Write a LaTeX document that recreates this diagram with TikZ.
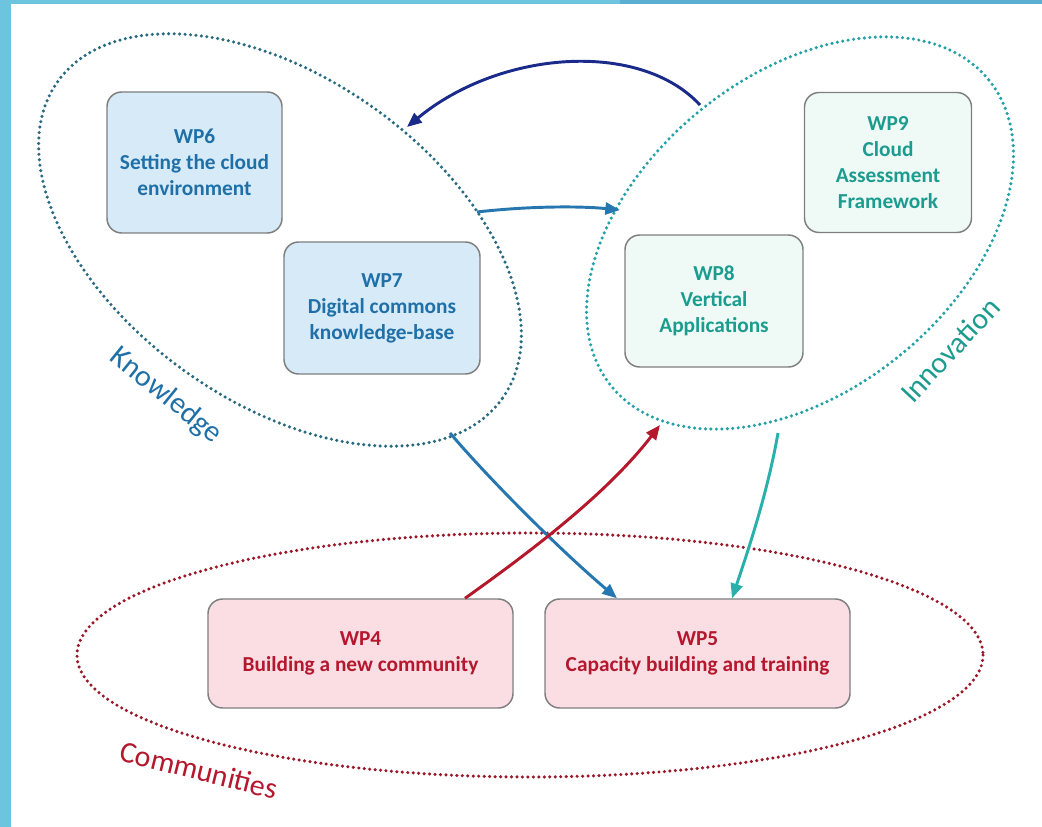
\documentclass[tikz,border=0pt]{standalone}
\usepackage{fontspec}
\setmainfont{Carlito}
\usetikzlibrary{arrows.meta}
\definecolor{stripeA}{HTML}{6CC4DE}
\definecolor{stripeB}{HTML}{5AAFD2}
\definecolor{kdot}{HTML}{2A6A80}
\definecolor{idot}{HTML}{24A0A6}
\definecolor{cdot}{HTML}{9A1828}
\definecolor{kfill}{HTML}{D6EAF8}
\definecolor{ktext}{HTML}{2070A8}
\definecolor{ifill}{HTML}{EFFAF7}
\definecolor{itext}{HTML}{1C9C8E}
\definecolor{cfill}{HTML}{FBDDE4}
\definecolor{ctext}{HTML}{B5182E}
\definecolor{boxline}{HTML}{7F7F7F}
\definecolor{navy}{HTML}{1A2A8A}
\definecolor{midblue}{HTML}{2676B0}
\definecolor{tealarrow}{HTML}{2AB0AA}
\definecolor{redarrow}{HTML}{B5182A}
\tikzset{
  dots/.style={line width=2.6pt, line cap=round, dash pattern=on 0pt off 4.1pt},
  wpbox/.style={rectangle, rounded corners=11pt, draw=boxline, line width=1.1pt,
    align=center, font=\fontsize{16}{19.5}\selectfont\bfseries, inner sep=2pt},
  kbox/.style={wpbox, fill=kfill, text=ktext},
  ibox/.style={wpbox, fill=ifill, text=itext},
  cbox/.style={wpbox, fill=cfill, text=ctext},
  link/.style={line width=2.2pt, -{Triangle[length=11pt,width=9pt]}},
  grouplabel/.style={font=\fontsize{22.5}{26}\selectfont}
}
\begin{document}
\begin{tikzpicture}[x=0.75pt,y=-0.75pt]
\useasboundingbox (0,0) rectangle (1042,827);
\fill[white] (0,0) rectangle (1042,827);
\fill[stripeA] (0,0) rectangle (11,827);
\fill[stripeA] (0,0) rectangle (620,4);
\fill[stripeB] (620,0) rectangle (1042,4);

% group ellipses
\draw[dots, draw=kdot, rotate around={-35.5:(280,240)}] (280,240) ellipse [x radius=273, y radius=162];
\draw[dots, draw=idot, rotate around={39:(800,233)}] (800,233) ellipse [x radius=243, y radius=158];
\draw[dots, draw=cdot] (530,655) ellipse [x radius=453, y radius=122];

% boxes
\node[kbox, minimum width=131.25pt, minimum height=105.75pt] (wp6) at (194.5,162.5) {WP6\\Setting the cloud\\environment};
\node[kbox, minimum width=147pt, minimum height=99pt] (wp7) at (382,308) {WP7\\Digital commons\\knowledge-base};
\node[ibox, minimum width=125.25pt, minimum height=105pt] (wp9) at (888,162.5) {WP9\\Cloud\\Assessment\\Framework};
\node[ibox, minimum width=133.5pt, minimum height=99pt] (wp8) at (714,301) {WP8\\Vertical\\Applications};
\node[cbox, minimum width=228.75pt, minimum height=81.75pt] (wp4) at (360.5,653.5) {WP4\\Building a new community};
\node[cbox, minimum width=228.75pt, minimum height=81.75pt] (wp5) at (697.5,653.5) {WP5\\Capacity building and training};

% group labels
\node[grouplabel, text=ktext, rotate=-39] (klabel) at (166,396) {Knowledge};
\node[grouplabel, text=itext, rotate=47] (ilabel) at (950,350) {Innovation};
\node[grouplabel, text=ctext, rotate=-14] (clabel) at (199,770) {Communities};

% connector end points on the ellipses
\coordinate (innovTop) at (700,105);
\coordinate (knowTop) at (407,127);
\coordinate (knowRight) at (477,212);
\coordinate (innovLeft) at (620,210);
\coordinate (knowBottom) at (450,433);
\coordinate (innovBottom) at (660,425);
\coordinate (innovLow) at (778,433);

% connectors
\draw[link, navy] (innovTop) .. controls (640,40) and (500,50) .. (knowTop);
\draw[link, midblue] (knowRight) .. controls (530,206) and (580,206) .. (innovLeft);
\draw[link, midblue] (knowBottom) .. controls (490,480) and (560,550) .. ([xshift=-60.4pt]wp5.north);
\draw[link, redarrow] ([xshift=78.4pt]wp4.north) .. controls (540,545) and (610,490) .. (innovBottom);
\draw[link, tealarrow] (innovLow) .. controls (768,490) and (750,545) .. ([xshift=25.9pt]wp5.north);
\end{tikzpicture}
\end{document}
